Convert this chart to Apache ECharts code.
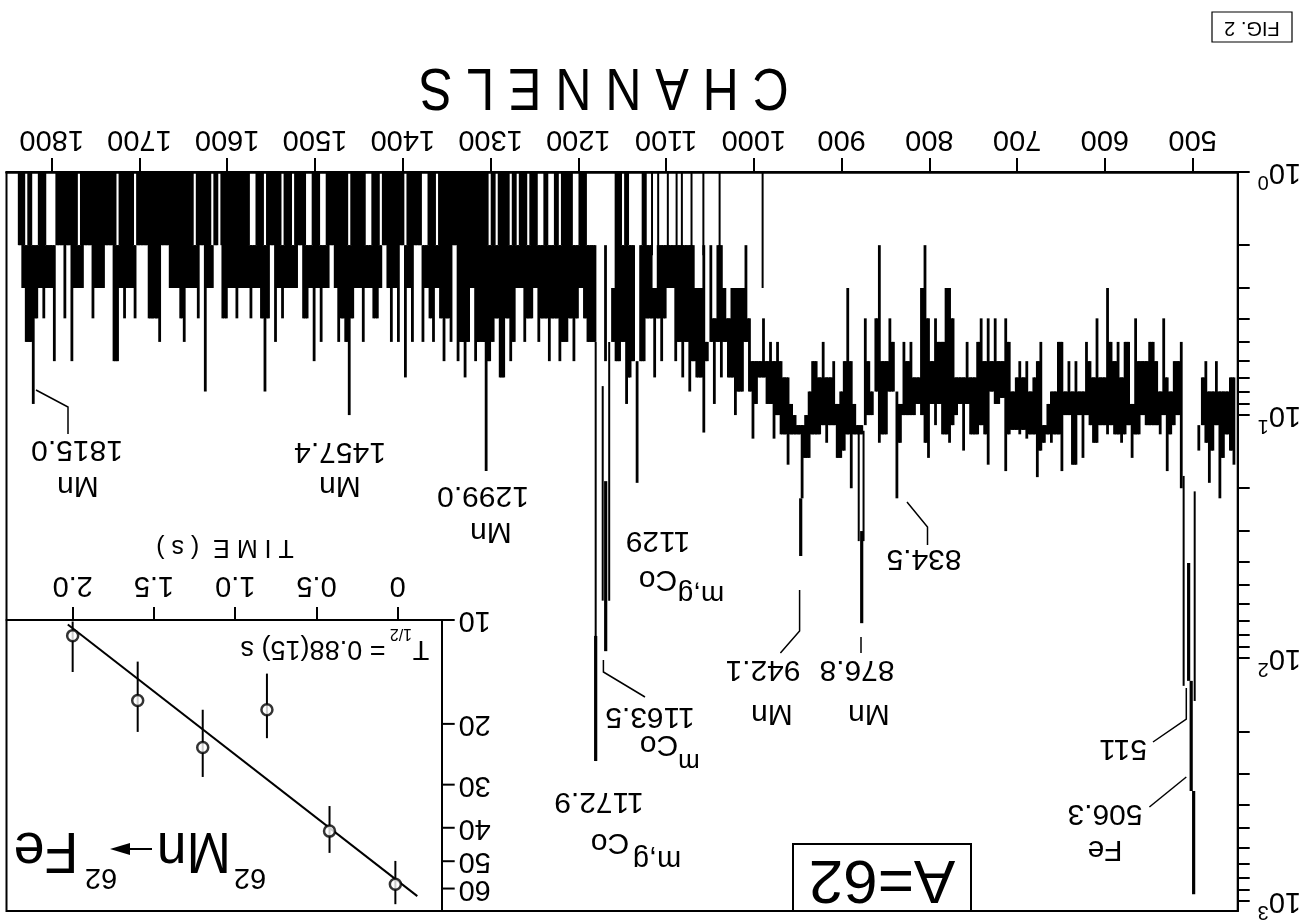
<!DOCTYPE html>
<html><head><meta charset="utf-8">
<style>html,body{margin:0;padding:0;background:#fff}#c{width:1310px;height:922px}</style>
<script src="https://cdn.jsdelivr.net/npm/echarts@6/dist/echarts.min.js"></script>
</head><body><div id="c"></div>
<script>
// ---------- spectrum values (left to right on the page: high channel to low channel) ----------
const firstChannel = 1853, channelStep = 4;
const spectrumTop = [
 0,0,0,0,1,1,2,1,2,2,1,1,2,2,2,1,1,1,1,1,1,2,1,1,1,1,1,1,1,1,1,1,2,1,1,1,1,2,1,1,1,1,1,1,
 1,1,1,1,1,1,1,1,1,1,2,1,1,1,1,2,1,2,1,1,1,1,1,1,1,1,2,2,1,1,2,1,1,1,1,2,1,1,2,1,1,1,2,2,
 1,1,2,2,1,1,1,1,1,1,2,1,1,1,1,2,2,1,1,2,1,1,1,1,1,1,2,1,1,1,1,2,2,1,1,2,1,1,1,1,1,1,1,1,
 1,1,1,1,1,1,2,1,2,1,1,1,2,1,2,1,1,2,1,1,2,2,1,2,2,1,2,1,1,1,2,2,1,1,2,2,2,0,0,2,0,3,1,1,2,
 1,2,2,6,2,1,2,2,3,2,2,2,2,2,2,2,2,2,2,2,3,3,2,5,2,4,2,2,3,4,3,3,3,3,2,4,6,6,6,4,6,5,6,5,
 6,7,7,9,10,11,11,10,8,6,6,7,5,7,7,6,9,8,6,3,6,9,11,11,4,6,8,4,2,6,6,4,5,8,9,5,6,5,7,7,3,2,4,
 6,4,5,5,3,3,4,7,7,7,5,7,7,5,4,6,4,6,4,6,6,4,5,8,7,6,7,6,8,7,6,5,11,9,8,8,5,5,8,6,8,6,8,8,5,6,
 7,4,7,7,3,5,6,5,7,5,5,9,4,6,6,6,5,5,6,8,4,7,8,6,6,5,8,8,0,0,11,7,6,8,8,6,8,8,8,7,7,10,10
];
const spectrumBottom = [
 0,0,0,0,2,3,5,5,9,4,3,4,3,3,6,2,2,4,2,6,3,3,3,2,2,4,3,3,3,2,2,6,6,3,4,3,3,4,2,2,2,4,4,4,
 5,2,2,3,3,3,4,5,3,3,3,4,2,8,3,3,2,2,4,4,3,3,4,3,3,3,4,3,3,4,8,4,2,5,3,4,3,3,3,3,2,4,4,3,
 6,3,5,3,3,2,3,5,4,5,10,4,3,3,5,3,3,4,4,3,2,3,5,3,5,2,7,3,5,2,2,5,3,4,5,3,4,6,4,5,2,6,5,7,
 5,3,6,5,5,17,6,5,4,7,7,4,6,5,3,3,5,4,4,3,5,4,4,6,4,4,6,5,5,4,6,4,3,4,5,5,5,0,0,6,0,5,6,6,5,
 9,7,6,19,6,6,4,4,7,4,6,4,3,3,6,5,7,5,8,6,7,7,11.8,6,5,9,5,7,5,7,7,10,8,8,5,8,12.5,9,7,7,9,9,12.5,10,
 12,12,16,12,12,12,22,15,15,12,12,12,11,13,11,11,15,15,14,12,20,12,12,12,11,10,10,8,13,12,12,8,8,22,13,10,10,10,10,9,10,13,15,
 9,11,9,12,12,13,11,10,9,14,9,12,12,12,11,12,16,8,9,9,8.5,17,12,11.5,11.5,12,11.5,12.5,12,12,18,14,13,12,13,12,12,17,10,10,16,16,10,15,
 10,11,13,13,11,11,12,11,12,12,13,12,11,15,12,12,10,11,11,11,11,12,10,17,12,11,10,20,0,0,20,10,14,11,13,19,14,11,22,15,12,14,16
];
// thin spectrum lines: channel, upper count, lower count
const thinChannels = [1123.6,1116,1109,1098,1088,1082,1071,1057.5,1039,990,1180.2,1172.2,1164.8,880.5,875,510.3,497.7];
const thinTops     = [1,1,1,1,1,1,1,1,1,1,5,7.6,5,11.6,11.6,17.8,20.6];
const thinBottoms  = [2.2,2.2,2.2,2.2,2.2,2.2,2.2,2.2,2.2,3,265,58,58,33,33,130,150];
// heavy peak lines
const peakChannels = [1180.2,1168.8,946.6,877.1,504.6,501.7,498.9];
const peakTops     = [81,18.7,22,30,40.6,124,352];
const peakBottoms  = [265,93.6,38,71.8,124,352,936];

const channelTicks = [500,600,700,800,900,1000,1100,1200,1300,1400,1500,1600,1700,1800];
const countLabels = [1,10,100,1000];
const countTicks = [1,2,3,4,5,6,7,8,9,10,20,30,40,50,60,70,80,90,100,200,300,400,500,600,700,800,900,1000];

// inset: decay curve
const timeValues = [2.0,1.60,1.20,0.805,0.42,0.015];
const rateValues = [11.1,17.1,23.4,18.2,40.9,58.3];
const rateLow    = [10.1,13.2,18.2,14.3,34.6,49.9];
const rateHigh   = [14.15,21.1,28.5,22.0,47.3,66.6];
const fitTimes = [2.03,-0.12];
const fitRates = [10.3,63.1];
const timeTicks = [0,0.5,1,1.5,2];
const rateTicks = [10,20,30,40,50,60];

// ---------- building ----------
const FONT = '"Liberation Sans", Arial, sans-serif';
const binData = spectrumTop.map((t,i)=>[firstChannel-i*channelStep,t,spectrumBottom[i],spectrumTop[i+1]||0,spectrumBottom[i+1]||0,spectrumTop[i-1]||0]).filter(d=>d[1]>0);
function binItem(params,api){
  const c=api.value(0),lo=api.value(1),hi=api.value(2),nlo=api.value(3),nhi=api.value(4),plo=api.value(5);
  const a=api.coord([c,lo]),b=api.coord([c,hi]);
  const w=2.8;
  const kids=[{type:'rect',shape:{x:a[0]-w/2,y:a[1],width:w,height:b[1]-a[1]},style:{fill:'#000'}}];
  if(nlo>0){
    const l=Math.max(lo,nlo),h=Math.min(hi,nhi);
    if(h>l){
      const p=api.coord([c,l]),q=api.coord([c-channelStep,h]);
      kids.push({type:'rect',shape:{x:p[0],y:p[1],width:q[0]-p[0],height:q[1]-p[1]},style:{fill:'#000'}});
    }
  }
  // the white gaps in the top band are narrower than a bin: let the solid neighbours close in on them
  if(lo===1 && hi>=2){
    const bandEnd=api.coord([c,2])[1];
    const reach=[];
    if(nlo===2) reach.push(c-channelStep*0.7);
    if(plo===2) reach.push(c+channelStep*0.7);
    reach.forEach(r=>{
      const e=api.coord([r,1])[0];
      kids.push({type:'rect',shape:{x:Math.min(a[0],e),y:a[1],width:Math.abs(e-a[0]),height:bandEnd-a[1]},style:{fill:'#000'}});
    });
  }
  return {type:'group',children:kids};
}
function vline(width){
  return function(params,api){
    const a=api.coord([api.value(0),api.value(1)]),b=api.coord([api.value(0),api.value(2)]);
    return {type:'line',shape:{x1:a[0],y1:a[1],x2:b[0],y2:b[1]},style:{stroke:'#000',lineWidth:width}};
  };
}
// inset y ticks and labels placed through the inset's own log scale
function rateTickItem(params,api){
  const v=api.value(1);
  const p=api.coord([api.value(0),v]);
  return {type:'group',children:[
    {type:'line',shape:{x1:p[0],y1:p[1],x2:p[0]+13,y2:p[1]},style:{stroke:'#000',lineWidth:2}},
    {type:'text',x:p[0]+33,y:p[1],rotation:Math.PI,style:{text:String(v),fontSize:29,fontFamily:FONT,fill:'#000',align:'center',verticalAlign:'middle'}}
  ]};
}
function T(text,x,y,size,extra){
  return Object.assign({type:'text',x:x,y:y,rotation:Math.PI,z:50,style:{text:text,fontSize:size,fontFamily:FONT,fill:'#000',align:'center',verticalAlign:'middle'}},extra||{});
}
function L(points,w){
  return {type:'polyline',z:50,shape:{points:points},style:{stroke:'#000',fill:null,lineWidth:w||1.5}};
}
const graphics=[
  T('C H A N N E L S',604,86,50,{scaleY:1.2}),
  // A=62 box
  {type:'rect',z:49,shape:{x:793,y:844,width:178,height:67},style:{fill:'#fff',stroke:'#000',lineWidth:2}},
  T('A=62',882,878,62),
  // FIG. 2
  {type:'rect',z:49,shape:{x:1212,y:12,width:80,height:30},style:{fill:'#fff',stroke:'#000',lineWidth:1.2}},
  T('FIG. 2',1252,28,20),
  // peak labels
  T('1815.0',77,449,30), T('Mn',78,485,30),
  T('1457.4',340,451,30), T('Mn',340,485,30),
  T('1299.0',483,495,30), T('Mn',491,531,30),
  T('1129',658,540,30), T('Co',658,579,30), T('m,g',701,594,28),
  T('1163.5',650,716,30), T('Co',659,744,30), T('m',689,761,26),
  T('1172.9',599,801,30), T('Co',610,842,30), T('m,g',657,859,29),
  T('942.1',763,669,30), T('Mn',772,713,30),
  T('876.8',857,669,30), T('Mn',869,713,30),
  T('834.5',924,558,30),
  T('511',1123,748,30),
  T('506.3',1105,813,30), T('Fe',1105,849,30),
  // leader lines
  L([[36,390],[68,407],[68,434]]),
  L([[907,502],[927.5,527],[927.5,545]]),
  L([[799.6,590],[799.6,631],[780.4,653]]),
  L([[861,637],[861,653]]),
  L([[603.4,660],[603.4,672],[645,697]]),
  L([[1186.3,688],[1186.3,719],[1153,742]]),
  L([[1186.3,777],[1149.4,807]]),
  // inset text
  T('T I M E  ( s )',225,547,25),
  T('T',421,648,27), T('1/2',401,633,16), T('= 0.88(15) s',313,648,27),
  T('62',250,877,29), T('Mn',194,849,58,{scaleX:0.92}), T('62',101,877,29), T('Fe',46,849,58,{scaleX:0.96}),
  L([[152,849],[125,849]],2),
  {type:'polygon',z:50,shape:{points:[[110,849],[130,843],[130,855]]},style:{fill:'#000'}}
];

const axisLab={color:'#000',fontFamily:FONT,fontSize:29,rotate:180};
const option={
  animation:false,
  backgroundColor:'#fff',
  graphic:{elements:graphics},
  grid:[
    {left:6.5,top:172,width:1231.2,height:739,show:true,borderColor:'#000',borderWidth:2,backgroundColor:'#fff'},
    {left:6.5,top:620,width:435.2,height:291,show:false}
  ],
  xAxis:[
    {type:'value',gridIndex:0,position:'top',inverse:true,min:448.7,max:1851.5,splitLine:{show:false},
     axisLine:{show:true,onZero:false,lineStyle:{color:'#000',width:2.5}},
     axisTick:{show:true,customValues:channelTicks,length:14,lineStyle:{color:'#000',width:2}},
     axisLabel:Object.assign({},axisLab,{customValues:channelTicks,margin:19,formatter:v=>String(v)})},
    {type:'value',gridIndex:1,position:'top',inverse:true,min:-0.27,max:2.407,splitLine:{show:false},
     axisLine:{show:true,onZero:false,lineStyle:{color:'#000',width:2}},
     axisTick:{show:true,customValues:timeTicks,length:13,lineStyle:{color:'#000',width:2}},
     axisLabel:Object.assign({},axisLab,{customValues:timeTicks,margin:21,formatter:v=>v===0?'0':v.toFixed(1)})}
  ],
  yAxis:[
    {type:'log',gridIndex:0,position:'right',inverse:true,min:1,max:1097,splitLine:{show:false},minorTick:{show:false},
     axisLine:{show:true,onZero:false,lineStyle:{color:'#000',width:2}},
     axisTick:{show:true,customValues:countTicks,length:12,lineStyle:{color:'#000',width:2}},
     axisLabel:{color:'#000',fontFamily:FONT,rotate:180,margin:20,customValues:countLabels,
       formatter:v=>'{a|10}{s|'+Math.round(Math.log10(v))+'}',
       rich:{a:{fontSize:29,fontFamily:FONT,color:'#000'},s:{fontSize:20,fontFamily:FONT,color:'#000',verticalAlign:'top',padding:[0,0,20,0]}}}},
    {type:'log',gridIndex:1,position:'right',inverse:true,min:10,max:69.7,splitLine:{show:false},minorTick:{show:false},
     axisLine:{show:true,onZero:false,lineStyle:{color:'#000',width:2}},
     axisTick:{show:false},
     axisLabel:{show:false}}
  ],
  series:[
    {type:'custom',xAxisIndex:0,yAxisIndex:0,clip:true,data:binData,renderItem:binItem,encode:{x:0,y:[1,2]},silent:true},
    {type:'custom',xAxisIndex:0,yAxisIndex:0,clip:true,data:thinChannels.map((c,i)=>[c,thinTops[i],thinBottoms[i]]),renderItem:vline(2),encode:{x:0,y:[1,2]},silent:true},
    {type:'custom',xAxisIndex:0,yAxisIndex:0,clip:true,data:peakChannels.map((c,i)=>[c,peakTops[i],peakBottoms[i]]),renderItem:vline(3.2),encode:{x:0,y:[1,2]},silent:true},
    {type:'line',xAxisIndex:1,yAxisIndex:1,data:fitTimes.map((t,i)=>[t,fitRates[i]]),symbol:'none',lineStyle:{color:'#000',width:2},silent:true},
    {type:'custom',xAxisIndex:1,yAxisIndex:1,data:timeValues.map((t,i)=>[t,rateLow[i],rateHigh[i]]),renderItem:vline(2),encode:{x:0,y:[1,2]},silent:true},
    {type:'scatter',xAxisIndex:1,yAxisIndex:1,data:timeValues.map((t,i)=>[t,rateValues[i]]),symbol:'circle',symbolSize:11,z:10,itemStyle:{color:'#fff',borderColor:'#000',borderWidth:2.5},silent:true},
    {type:'custom',xAxisIndex:1,yAxisIndex:1,clip:false,data:rateTicks.map(v=>[-0.27,v]),renderItem:rateTickItem,encode:{x:0,y:1},silent:true}
  ]
};
const chart=echarts.init(document.getElementById('c'),null,{renderer:'canvas'});
chart.setOption(option);
</script></body></html>
